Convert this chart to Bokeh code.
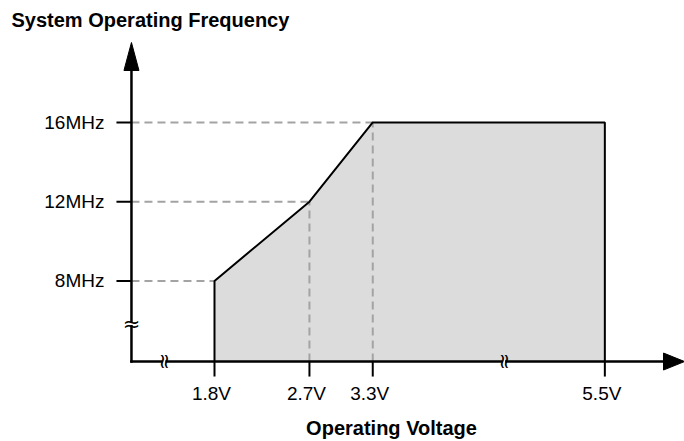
import math
from bokeh.plotting import figure
from bokeh.models import Range1d, Label
from bokeh.core.properties import value
from bokeh.embed import file_html
from bokeh.resources import INLINE

# ---- data ----
VOLTS = [1.8, 2.7, 3.3, 5.5]
FREQ_MHZ = [8, 12, 16, 16]
VOLT_LABELS = ["1.8V", "2.7V", "3.3V", "5.5V"]
FREQ_TICKS = [8, 12, 16]
FREQ_LABELS = ["8MHz", "12MHz", "16MHz"]
TITLE = "System Operating Frequency"
X_TITLE = "Operating Voltage"
X_BREAKS = [1.32, 4.54]   # axis break marks (voltage)
Y_BREAKS = [5.85]         # axis break marks (MHz)

# ---- layout ----
W, H = 684, 441
X0, X1 = -0.2284, 6.255     # canvas extent in volts
Y0, Y1 = -0.106, 22.155     # canvas extent in MHz
AX_V, AX_F = 1.013, 3.93    # axis origin
TIP_V, TIP_F = 6.255, 20.035  # arrow tips
xu = (X1 - X0) / W          # volts per pixel
yu = (Y1 - Y0) / H          # MHz per pixel

FONT = "Liberation Sans"
GUIDE = "#a3a3a3"

p = figure(width=W, height=H, x_range=Range1d(X0, X1), y_range=Range1d(Y0, Y1),
           output_backend="svg", toolbar_location=None, min_border=0)
p.title.visible = False
p.axis.visible = False
p.grid.visible = False
p.outline_line_color = None
p.background_fill_color = "white"
p.border_fill_color = "white"

# filled region
poly_x = [VOLTS[0]] + VOLTS + [VOLTS[-1]]
poly_y = [AX_F] + FREQ_MHZ + [AX_F]
p.patch(poly_x, poly_y, fill_color="#dcdcdc", line_color=None)

# dashed guide lines
seen = set()
hx1, hy = [], []
for v, f in zip(VOLTS, FREQ_MHZ):
    if f in seen:
        continue
    seen.add(f)
    hx1.append(v); hy.append(f)
p.segment(x0=[AX_V] * len(hy), y0=hy, x1=hx1, y1=hy,
          line_color=GUIDE, line_width=2, line_dash="8 5")
p.segment(x0=VOLTS[1:-1], y0=[AX_F] * (len(VOLTS) - 2), x1=VOLTS[1:-1], y1=FREQ_MHZ[1:-1],
          line_color=GUIDE, line_width=2, line_dash="8 5")

# outline
p.line(poly_x, poly_y, line_color="black", line_width=2)

# axis lines
p.segment(x0=[AX_V, AX_V], y0=[AX_F, AX_F], x1=[TIP_V - 18 * xu, AX_V], y1=[AX_F, TIP_F - 24 * yu],
          line_color="black", line_width=2.5, line_cap="square")

# ticks
p.ray(x=VOLTS, y=[AX_F] * len(VOLTS), length=15, length_units="screen",
      angle=-math.pi / 2, line_color="black", line_width=2)
p.ray(x=[AX_V] * len(FREQ_TICKS), y=FREQ_TICKS, length=15, length_units="screen",
      angle=math.pi, line_color="black", line_width=2)

# arrow heads
p.patch([TIP_V, TIP_V - 21 * xu, TIP_V - 21 * xu], [AX_F, AX_F + 8.5 * yu, AX_F - 8.5 * yu],
        fill_color="black", line_color="black", line_width=1)
p.patch([AX_V, AX_V - 7.5 * xu, AX_V + 7.5 * xu], [TIP_F, TIP_F - 28 * yu, TIP_F - 28 * yu],
        fill_color="black", line_color="black", line_width=1)

# break marks
p.rect(x=X_BREAKS, y=[AX_F] * len(X_BREAKS), width=3, height=6,
       width_units="screen", height_units="screen", fill_color="white", line_color=None)
p.rect(x=[AX_V] * len(Y_BREAKS), y=Y_BREAKS, width=6, height=3,
       width_units="screen", height_units="screen", fill_color="white", line_color=None)
p.text(x=X_BREAKS, y=[AX_F] * len(X_BREAKS), text=["≈"] * len(X_BREAKS), angle=math.pi / 2,
       text_font=value("DejaVu Sans"), text_font_size="21px", text_color="black",
       text_align="center", text_baseline="middle")
p.text(x=[AX_V] * len(Y_BREAKS), y=Y_BREAKS, text=["≈"] * len(Y_BREAKS),
       text_font=value("DejaVu Sans"), text_font_size="21px", text_color="black",
       text_align="center", text_baseline="middle")

# tick labels
p.text(x=VOLTS, y=[AX_F] * len(VOLTS), text=VOLT_LABELS, x_offset=-3, y_offset=32,
       text_font=value(FONT), text_font_size="19px", text_color="black",
       text_align="center", text_baseline="alphabetic")
p.text(x=[AX_V] * len(FREQ_TICKS), y=FREQ_TICKS, text=FREQ_LABELS, x_offset=-27,
       text_font=value(FONT), text_font_size="19px", text_color="black",
       text_align="right", text_baseline="middle")

# titles
p.add_layout(Label(x=11, y=422, x_units="screen", y_units="screen", text=TITLE,
                   text_font=FONT, text_font_size="20px", text_font_style="bold",
                   text_color="black", text_baseline="alphabetic", text_align="left"))
p.add_layout(Label(x=391, y=14, x_units="screen", y_units="screen", text=X_TITLE,
                   text_font=FONT, text_font_size="20px", text_font_style="bold",
                   text_color="black", text_baseline="alphabetic", text_align="center"))

open("out.html", "w").write(file_html(p, INLINE))
